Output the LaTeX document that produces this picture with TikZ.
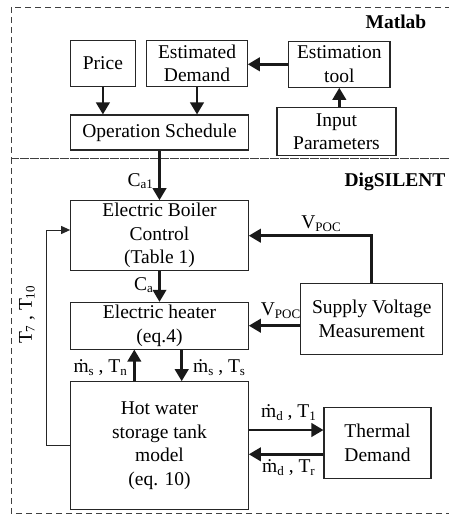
\documentclass[tikz,border=0pt]{standalone}
\usepackage{fontspec}
\setmainfont{Liberation Serif}
\usetikzlibrary{arrows.meta,calc}
\newcommand\lowsub[1]{\raisebox{-0.3ex}{\fontsize{13}{13}\selectfont #1}}
\newcommand\mdot{\.m}
\tikzset{
  blk/.style={draw=black!85, line width=1.1pt, inner sep=0pt, align=center,
    font=\fontsize{19.5}{23.5}\selectfont},
  thick arrow/.style={draw=black!90, line width=2.5pt, -{Triangle[length=12pt,width=13.5pt]}},
  thin arrow/.style={draw=black!85, line width=1pt, -{Triangle[length=9pt,width=8pt]}},
  region/.style={draw=black!75, line width=0.9pt, dash pattern=on 6pt off 4pt},
  lbl/.style={inner sep=0pt, font=\fontsize{19.5}{23.5}\selectfont},
  ttl/.style={inner sep=0pt, font=\fontsize{19.5}{23.5}\selectfont\bfseries}
}
\begin{document}
\begin{tikzpicture}[x=1pt,y=-1pt]
\useasboundingbox (0,0) rectangle (448,516);
\draw[region] (11,7) rectangle (470,158);
\draw[region] (11,158) rectangle (470,513);
\node[ttl] (matlab) at (396,22) {Matlab};
\node[ttl] (dig) at (395,182) {DigSILENT};

\node[blk, minimum width=64.3pt, minimum height=46pt] (price) at (102.9,63.5) {Price};
\node[blk, minimum width=100.6pt, minimum height=46pt] (estdem) at (197,63.5) {Estimated\\Demand};
\node[blk, minimum width=101.3pt, minimum height=46pt] (esttool) at (339.3,64.3) {Estimation\\tool};
\node[blk, minimum width=119pt, minimum height=47.7pt] (input) at (336.5,131.8) {Input\\Parameters};
\node[blk, minimum width=177.6pt, minimum height=35pt] (ops) at (159.5,132.5) {Operation Schedule};

\node[blk, minimum width=177.6pt, minimum height=70pt] (ebc) at (159.5,235.7) {Electric Boiler\\Control\\(Table 1)};
\node[blk, minimum width=177.6pt, minimum height=46.7pt] (eh) at (159.5,325.7) {Electric heater\\(eq.4)};
\node[blk, minimum width=177.6pt, minimum height=127.6pt] (tank) at (159.5,445.5) {Hot water\\storage tank\\model\\(eq. 10)};
\node[blk, minimum width=142pt, minimum height=70.7pt] (svm) at (371.7,318.7) {Supply Voltage\\Measurement};
\node[blk, minimum width=107pt, minimum height=70.6pt] (thd) at (377.5,443) {Thermal\\Demand};

% Matlab arrows
\draw[thick arrow] (price.south) -- (price.south |- ops.north);
\draw[thick arrow] (estdem.south) -- (estdem.south |- ops.north);
\draw[thick arrow] (esttool.west) -- (esttool.west -| estdem.east);
\draw[thick arrow] (esttool.south |- input.north) -- (esttool.south);

% DigSILENT arrows
\draw[thick arrow] (ops.south) -- (ebc.north);
\node[lbl, anchor=east] (ca1) at (153,181) {C\lowsub{a1}};
\draw[thick arrow] (ebc.south) -- (eh.north);
\node[lbl, anchor=east] (ca) at (153,285) {C\lowsub{a}};

\draw[thick arrow] (svm.north) |- (ebc.east);
\node[lbl] (vpoc1) at (321,224) {V\lowsub{POC}};
\draw[thick arrow] (svm.west |- eh.east) -- (eh.east);
\node[lbl] (vpoc2) at (280.5,311) {V\lowsub{POC}};

\coordinate (tup) at ($(tank.north)+(-25.2,0)$);
\coordinate (tdn) at ($(tank.north)+(22.2,0)$);
\draw[thick arrow] (tup) -- (tup |- eh.south);
\draw[thick arrow] (tdn |- eh.south) -- (tdn);
\node[lbl, anchor=east] (msn) at (127,368) {\mdot\lowsub{s} , T\lowsub{n}};
\node[lbl, anchor=west] (mss) at (193,368) {\mdot\lowsub{s} , T\lowsub{s}};

\coordinate (tdout) at ($(thd.west)+(0,-13)$);
\coordinate (tdin) at ($(thd.west)+(0,11.3)$);
\draw[thick arrow] (tdout -| tank.east) -- (tdout);
\draw[thick arrow] (tdin) -- (tdin -| tank.east);
\node[lbl] (md1) at (288.5,413) {\mdot\lowsub{d} , T\lowsub{1}};
\node[lbl] (md2) at (288.5,468) {\mdot\lowsub{d} , T\lowsub{r}};

\coordinate (fbL) at (46.7,445.5);
\coordinate (fbT) at (46.7,230);
\draw[thin arrow] (tank.west) -- (fbL) -- (fbT) -- (fbT -| ebc.west);
\node[lbl, rotate=90] (t710) at (27,315) {T\lowsub{7} , T\lowsub{10}};
\end{tikzpicture}
\end{document}
